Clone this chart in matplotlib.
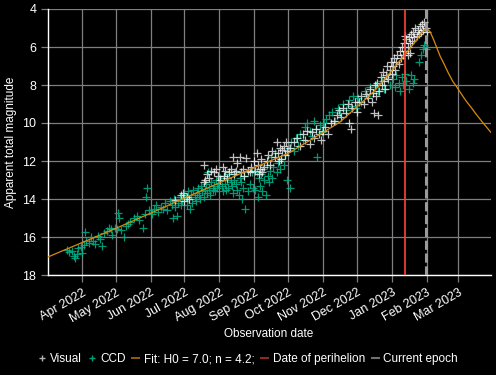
import numpy as np
import matplotlib
matplotlib.use("Agg")
import matplotlib.pyplot as plt
import matplotlib.dates as mdates
from matplotlib.lines import Line2D

plt.rcParams['font.family'] = ['Liberation Sans', 'DejaVu Sans']

# days are counted from 2022-03-01
start = np.datetime64('2022-03-01')

visual_days = [114, 119, 121, 122, 124, 126,
               139, 139, 140, 142, 144, 146, 148, 150, 152, 154, 156, 157, 158, 160,
               162, 163, 165, 166, 168, 169, 171, 172, 174, 175, 177, 178, 180, 181,
               184, 185, 186, 187, 188, 189, 190, 191, 193, 195, 196, 198, 200, 202,
               204, 205, 206, 207, 208, 209, 210, 211, 212, 213,
               216, 219, 222, 225, 227, 229, 231, 233, 235, 237, 239, 241, 243, 245,
               247, 249,
               252, 255, 257, 259, 261, 263, 265, 267, 268, 270, 271, 273, 275,
               277, 279, 281, 283, 285, 287, 288, 289, 290, 291, 292, 293, 294, 295,
               296, 297, 298, 299, 300, 301, 302, 303, 304, 305, 306,
               307, 308, 309, 310, 311, 312, 313, 314, 315, 316, 317, 318, 319, 320,
               321, 322, 323, 324, 325, 326, 327, 328, 329, 330, 331, 332, 333, 334,
               335, 336, 337, 318, 320, 322]
visual_mag = [14.05, 13.8, 13.7, 14.1, 13.9, 14.0,
              12.2, 13.1, 13.0, 12.7, 12.9, 12.5, 12.6, 12.4, 12.8, 13.0, 12.3, 12.8, 12.5, 12.9,
              12.6, 12.4, 11.8, 12.7, 12.5, 12.1, 11.8, 12.6, 12.4, 12.8, 11.85, 12.5, 12.6, 12.3,
              12.0, 12.5, 11.6, 12.2, 12.7, 12.4, 11.9, 12.6, 12.3, 12.0, 11.7, 12.2, 11.5, 11.8,
              11.0, 11.6, 12.0, 11.3, 11.9, 11.4, 11.2, 11.7, 11.0, 11.5,
              11.3, 11.0, 10.8, 11.2, 10.6, 10.9, 10.4, 11.1, 10.5, 10.8, 10.3, 10.6, 10.9, 10.4,
              10.2, 10.6,
              10.0, 9.9, 9.6, 9.3, 9.7, 9.2, 9.5, 9.0, 10.0, 10.3, 9.2, 8.9, 9.4,
              8.9, 8.6, 9.0, 8.5, 8.7, 8.2, 8.9, 8.4, 9.5, 8.0, 8.6, 7.9, 9.6, 8.3,
              7.6, 8.0, 7.3, 7.8, 8.2, 7.5, 7.0, 7.7, 7.2, 6.8, 7.4,
              7.0, 6.6, 7.2, 6.8, 6.4, 6.9, 6.2, 6.6, 6.0, 6.4, 5.8, 6.2, 5.6, 6.0,
              5.5, 5.8, 5.3, 5.7, 5.2, 5.5, 5.0, 5.4, 5.1, 5.3, 4.9, 5.2, 4.8, 5.1,
              4.7, 5.0, 5.2, 5.4, 6.4, 6.3]

ccd_days = [18, 20, 22, 24, 25, 27, 28, 30, 31, 33, 34, 35, 37, 39, 41, 43, 45,
            47, 49, 51, 53, 55, 57, 58, 60, 62, 63, 64, 66, 68, 70, 72, 74,
            77, 80, 82, 85, 87, 88, 89, 91, 93,
            95, 97, 99, 101, 103, 105, 107, 109, 111, 113, 114, 116, 118, 119, 120, 122, 112, 115,
            123, 124, 125, 126, 127, 128, 129, 130, 131, 132, 133, 134, 135, 136, 137, 138,
            139, 140, 141, 142, 143, 144, 145, 146, 147, 148, 149, 150, 151, 152,
            154, 155, 156, 157, 158, 159, 160, 161, 162, 163, 164, 165, 166, 167, 168, 169,
            170, 171, 172, 173, 174, 175, 176, 178, 180, 182, 183,
            185, 186, 187, 188, 189, 190, 191, 192, 193, 194, 195, 196, 197, 198, 199, 200,
            201, 202, 204, 205, 207, 208, 210, 213, 216, 211,
            215, 217, 219, 221, 223, 225, 227, 229, 231, 233, 235, 237, 239, 240, 242, 244,
            246, 248, 250, 253, 256, 258, 260, 263, 265, 268, 270, 272, 274,
            276, 279, 282, 284, 287, 289, 292, 294, 297, 299, 302, 304,
            307, 309, 310, 312, 313, 315, 316, 318, 319, 321, 323, 325, 326,
            330, 332, 334, 335, 336]
ccd_mag = [16.7, 16.8, 16.75, 17.0, 17.1, 16.9, 16.6, 16.5, 16.85, 16.4, 15.75, 16.2, 16.3, 16.0, 16.2, 16.35, 15.95,
           16.1, 16.45, 15.8, 15.7, 15.55, 15.6, 15.9, 15.5, 15.6, 14.75, 15.0, 15.65, 16.0, 15.4, 15.3, 15.2,
           15.0, 14.9, 15.1, 15.5, 14.8, 13.9, 13.4, 14.6, 14.8,
           14.5, 14.3, 14.7, 14.4, 14.5, 14.2, 14.6, 14.1, 14.3, 14.0, 14.4, 14.2, 13.9, 14.3, 14.1, 13.8, 15.0, 14.9,
           13.9, 14.3, 13.6, 14.0, 14.5, 13.8, 14.2, 13.5, 13.9, 14.1, 13.7, 13.4, 13.8, 14.0, 13.3, 13.6,
           13.9, 13.5, 13.2, 13.7, 12.6, 13.4, 13.8, 13.1, 13.5, 13.3, 13.6, 13.0, 13.4, 13.2,
           12.9, 13.3, 13.6, 12.8, 13.2, 13.5, 13.0, 13.4, 12.7, 13.1, 13.3, 13.7, 13.0, 12.6, 13.2, 13.5,
           13.8, 12.9, 13.1, 14.0, 13.4, 12.8, 14.5, 13.6, 13.2, 12.6, 13.4,
           13.5, 12.6, 13.9, 12.9, 13.3, 12.7, 13.6, 12.4, 13.0, 13.8, 12.2, 12.8, 13.1, 12.5, 11.8, 12.9,
           12.3, 11.6, 12.6, 12.1, 12.4, 11.9, 12.2, 13.0, 13.4, 11.7,
           11.3, 11.0, 11.5, 10.8, 11.2, 10.6, 10.9, 10.2, 10.0, 10.4, 10.7, 9.9, 10.3, 11.8, 10.1, 10.5,
           10.0, 9.8, 9.6, 9.4, 9.9, 9.2, 9.5, 9.0, 9.3, 8.8, 9.1, 8.6, 9.2,
           8.7, 8.9, 8.3, 8.6, 8.1, 8.4, 8.0, 8.3, 7.8, 8.2, 7.6, 8.0,
           7.7, 8.1, 7.5, 7.9, 8.3, 7.6, 8.0, 7.4, 7.8, 8.2, 7.5, 7.9, 7.7,
           6.8, 6.4, 6.1, 5.9, 6.1]

fit_days = [1, 31, 61, 92, 122, 153, 184, 214, 245, 260, 275, 290, 306, 317, 327, 333,
            337, 340, 343, 346, 349, 352, 356, 360, 363, 368, 372, 376, 381, 387, 394]
fit_mag = [17.05, 16.3, 15.55, 14.75, 13.95, 13.15, 12.35, 11.6, 10.5, 9.95, 9.15, 8.35, 7.25, 6.45, 5.7, 5.2,
           5.02, 5.2, 5.6, 6.05, 6.5, 6.85, 7.35, 7.8, 8.05, 8.5, 8.85, 9.15, 9.55, 10.0, 10.5]

perihelion = np.datetime64('2023-01-12T19')
current_epoch = np.datetime64('2023-01-31T16')

visual_dates = start + np.array(visual_days).astype('timedelta64[D]')
ccd_dates = start + np.array(ccd_days).astype('timedelta64[D]')
fit_dates = start + np.array(fit_days).astype('timedelta64[D]')

fig = plt.figure(figsize=(4.96, 3.75), dpi=100, facecolor='black')
ax = fig.add_axes([48 / 496, 1 - 275 / 375, (491 - 48) / 496, (275 - 9) / 375])
ax.set_facecolor('black')

ax.grid(True, color='#7f7f7f', linewidth=0.9)
ax.set_axisbelow(True)

ax.scatter(visual_dates, visual_mag, marker='+', s=40, color='white', alpha=0.75, linewidths=0.9, zorder=3)
ax.scatter(ccd_dates, ccd_mag, marker='+', s=40, color='#00b389', alpha=0.85, linewidths=0.9, zorder=2)
ax.plot(fit_dates, fit_mag, color='#d98a0b', linewidth=0.9, zorder=4)
ax.axvline(perihelion, color='#ff4433', linewidth=1.2, zorder=5)
ax.axvline(current_epoch, color='#9a9a9a', linewidth=2.2, linestyle=(0, (3, 1.2)), zorder=5)

ax.set_xlim(np.datetime64('2022-03-02'), np.datetime64('2023-03-30'))
ax.set_ylim(18, 4)
ax.set_yticks(np.arange(4, 19, 2))
ax.xaxis.set_major_locator(mdates.MonthLocator(bymonth=range(1, 13)))
ax.xaxis.set_major_formatter(mdates.DateFormatter('%b %Y'))

for side in ['top', 'right']:
    ax.spines[side].set_visible(False)
for side in ['left', 'bottom']:
    ax.spines[side].set_color('white')
    ax.spines[side].set_linewidth(1.0)

ax.tick_params(colors='#7f7f7f', labelcolor='white', length=5, width=0.9, labelsize=9)
for lab in ax.get_xticklabels():
    lab.set_rotation(30)
    lab.set_ha('right')
    lab.set_rotation_mode('anchor')

fig.text(269 / 496, 1 - 334 / 375, 'Observation date', color='white', fontsize=8.5,
         ha='center', va='center')
fig.text(11 / 496, 1 - 142 / 375, 'Apparent total magnitude', color='white', fontsize=8.5,
         ha='center', va='center', rotation=90)

handles = [
    Line2D([], [], marker='+', linestyle='none', color='#b0b0b0', markersize=5),
    Line2D([], [], marker='+', linestyle='none', color='#00a07a', markersize=5),
    Line2D([], [], color='#8a5a12', linewidth=1.5),
    Line2D([], [], color='#8a2a22', linewidth=1.5),
    Line2D([], [], color='#707070', linewidth=1.5),
]
labels = ['Visual', 'CCD', 'Fit: H0 = 7.0; n = 4.2;', 'Date of perihelion', 'Current epoch']
fig.legend(handles, labels, loc='center', bbox_to_anchor=(248 / 496, 1 - 359 / 375), ncol=5,
           frameon=False, fontsize=8.5, labelcolor='white', handlelength=0.6,
           handletextpad=0.4, columnspacing=0.55)

fig.savefig('out.png', dpi=100, facecolor='black')
